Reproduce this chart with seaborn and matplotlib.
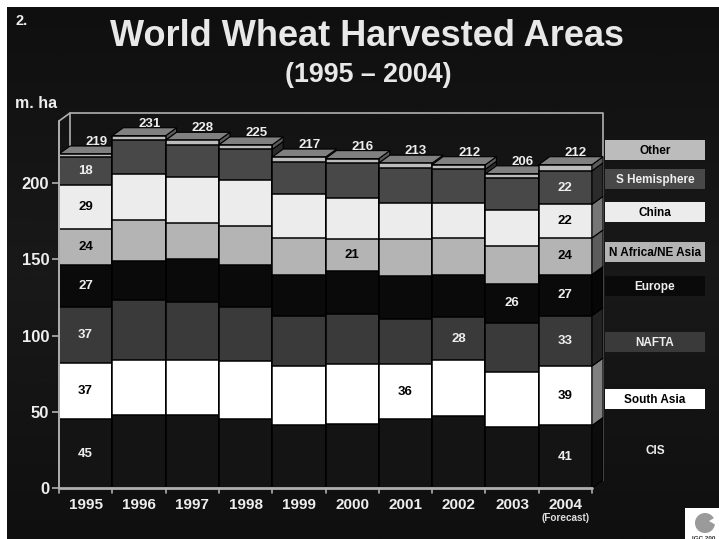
import numpy as np
import pandas as pd
import matplotlib
matplotlib.use("Agg")
import matplotlib.pyplot as plt
from matplotlib.patches import Polygon, Rectangle, Circle, Wedge
import seaborn as sns

# Harvested area by region, million hectares
years = ["1995", "1996", "1997", "1998", "1999", "2000", "2001", "2002", "2003", "2004"]
cis = [45, 48, 48, 45, 41, 42, 45, 47, 40, 41]
south_asia = [37, 36, 36, 38, 39, 39, 36, 37, 36, 39]
nafta = [37, 39, 38, 36, 33, 33, 30, 28, 32, 33]
europe = [27, 26, 28, 27, 27, 28, 28, 28, 26, 27]
nafrica_neasia = [24, 27, 24, 26, 24, 21, 24, 24, 25, 24]
china = [29, 30, 30, 30, 29, 27, 24, 23, 23, 22]
s_hemisphere = [18, 22, 21, 20, 21, 23, 23, 22, 21, 22]
other = [2, 3, 3, 3, 3, 3, 3, 3, 3, 4]
totals = [219, 231, 228, 225, 217, 216, 213, 212, 206, 212]

regions = ["CIS", "South Asia", "NAFTA", "Europe", "N Africa/NE Asia", "China", "S Hemisphere", "Other"]
series = [cis, south_asia, nafta, europe, nafrica_neasia, china, s_hemisphere, other]
front_colors = ["#141414", "#ffffff", "#3a3a3a", "#0a0a0a", "#b4b4b4", "#ececec", "#484848", "#bcbcbc"]
side_colors = ["#0c0c0c", "#808080", "#222222", "#060606", "#5c5c5c", "#767676", "#2b2b2b", "#5a5a5a"]
legend_fill = ["none", "#ffffff", "#3a3a3a", "#0a0a0a", "#b4b4b4", "#ececec", "#484848", "#bcbcbc"]
legend_text = ["#eeeeee", "#000000", "#eeeeee", "#eeeeee", "#000000", "#000000", "#eeeeee", "#000000"]
legend_y = [450, 399, 342, 286, 252, 212, 179, 150]
top_color = "#808080"

# Printed values: (region index, year index)
printed = [(i, 0) for i in range(7)] + [(i, 9) for i in range(7)] + [(4, 5), (1, 6), (2, 7), (3, 8)]

sns.set_theme(style="dark")
plt.rcParams["font.family"] = ["Liberation Sans", "DejaVu Sans"]

W, H = 719, 539
fig = plt.figure(figsize=(W / 100, H / 100), dpi=100, facecolor="white")

# Slide background: faint vertical shading inside a thin white page margin
bg = fig.add_axes([0, 0, 1, 1], zorder=-5)
bg.set_xlim(0, W)
bg.set_ylim(H, 0)
bg.axis("off")
shade = np.interp(np.linspace(0, 1, 200), [0, 0.5, 1], [0.06, 0.098, 0.06]).reshape(-1, 1)
bg.imshow(shade, extent=(7, W, H, 7), cmap="gray", vmin=0, vmax=1, aspect="auto")
bg.set_xlim(0, W)
bg.set_ylim(H, 0)

# Axes span: x 59..592 px, y 0 at 488 px, 1 unit = 1.525 px
left, right, y0, scale = 59, 592, 488, 1.525
ax_top = 100
ax = fig.add_axes([left / W, 1 - y0 / H, (right - left) / W, (y0 - ax_top) / H])
ax.set_facecolor("none")

frame = pd.DataFrame({"year": years})
cum = np.cumsum(np.array(series, dtype=float), axis=0)
# Last segment closes on the stated total
cum[-1] = np.array(totals, dtype=float)

# Stacked fronts: tallest cumulative height first, shorter ones over it
for k in range(len(regions) - 1, -1, -1):
    frame["h"] = cum[k]
    sns.barplot(data=frame, x="year", y="h", color=front_colors[k], saturation=1, width=1.0,
                edgecolor="black", linewidth=1.1, order=years, ax=ax, errorbar=None)

ax.set_xlim(-0.5, 9.5)
ax.set_ylim(0, (y0 - ax_top) / scale)

# Oblique faces and back wall use a fixed pixel depth converted to data units
dx = 11 / ((right - left) / 10)
dy = 8 / scale

# Painter's order: each year's fronts cover the faces of the year on its left
n_reg = len(regions)
for c_idx, cont in enumerate(ax.containers):
    for i, bar in enumerate(cont):
        bar.set_zorder(10 + 3 * i + 1 + c_idx * 0.01)

for i in range(len(years)):
    xr = i + 0.5
    xl = i - 0.5
    z = 10 + 3 * i
    lower = 0.0
    for k in range(n_reg):
        upper = cum[k, i]
        ax.add_patch(Polygon([(xr, lower), (xr + dx, lower + dy), (xr + dx, upper + dy), (xr, upper)],
                             closed=True, facecolor=side_colors[k], edgecolor="black", lw=0.8,
                             zorder=z, clip_on=False))
        lower = upper
    ax.add_patch(Polygon([(xl, lower), (xl + dx, lower + dy), (xr + dx, lower + dy), (xr, lower)],
                         closed=True, facecolor=top_color, edgecolor="black", lw=0.8,
                         zorder=z, clip_on=False))

# Value labels inside the bars
for k, i in printed:
    base = cum[k - 1, i] if k else 0
    mid = (base + cum[k, i]) / 2
    dark = k in (1, 4, 5)
    ax.text(i, mid, str(series[k][i]), ha="center", va="center", fontsize=9.5, fontweight="bold",
            color="black" if dark else "#eeeeee", zorder=60)

# Totals above each bar
for i, t in enumerate(totals):
    ax.text(i + 0.2, t + dy + 2.6, str(t), ha="center", va="center", fontsize=9.5, fontweight="bold",
            color="#eeeeee", zorder=60, clip_on=False)

# Back wall and axis lines
wall = "#b0b0b0"
wall_top = (y0 - 113) / scale
ax.plot([-0.5, -0.5 + dx, -0.5 + dx], [wall_top - dy, wall_top, 219 + dy - 2], color=wall, lw=1.2,
        zorder=1, clip_on=False)
ax.plot([-0.5, -0.5], [0, wall_top - dy], color=wall, lw=1.4, zorder=70, clip_on=False)
ax.plot([-0.5 + dx, 9.5 + dx, 9.5 + dx], [wall_top, wall_top, dy], color=wall, lw=1.2, zorder=1, clip_on=False)
ax.plot([-0.5, 9.5], [0, 0], color=wall, lw=2, zorder=70, clip_on=False)

for s in ax.spines.values():
    s.set_visible(False)
ax.set_xlabel("")
ax.set_ylabel("")
ax.grid(False)
ax.set_yticks([0, 50, 100, 150, 200])
ax.set_yticklabels(["0", "50", "100", "150", "200"], fontsize=12, fontweight="bold", color="#eeeeee")
ax.tick_params(axis="y", length=5, width=1.2, color=wall, pad=2, left=True)
ax.set_xticks(range(10))
ax.set_xticklabels(years, fontsize=11, fontweight="bold", color="#eeeeee")
ax.tick_params(axis="x", length=0, pad=7, bottom=False)
for p in np.arange(-0.5, 10, 1):
    ax.plot([p, p], [0, -3], color=wall, lw=1.2, clip_on=False, zorder=70)

# Page-level annotations in pixel coordinates
px = fig.add_axes([0, 0, 1, 1], zorder=200)
px.set_xlim(0, W)
px.set_ylim(H, 0)
px.axis("off")
px.patch.set_alpha(0)
px.text(15, 21, "2.", fontsize=10.5, fontweight="bold", color="#eeeeee", va="center")
px.text(367, 36, "World Wheat Harvested Areas", fontsize=26, fontweight="bold", color="#e8e8e8",
        ha="center", va="center")
px.text(368, 75, "(1995 – 2004)", fontsize=19.3, fontweight="bold", color="#e8e8e8", ha="center", va="center")
px.text(15, 104, "m. ha", fontsize=11.5, fontweight="bold", color="#eeeeee", va="center")
px.text(565.5, 518, "(Forecast)", fontsize=7.2, fontweight="bold", color="#dddddd", ha="center", va="center")

# Legend boxes placed beside the final bar
for name, fc, tc, yc in zip(regions, legend_fill, legend_text, legend_y):
    px.add_patch(Rectangle((605, yc - 10), 100, 20, facecolor=fc, edgecolor="none"))
    px.text(655, yc + 1, name, fontsize=8.5, fontweight="bold", color=tc, ha="center", va="center")

# Small logo in the lower corner
px.add_patch(Rectangle((685, 508), 34, 31, facecolor="white", edgecolor="none"))
px.add_patch(Circle((705, 523), 10, facecolor="#9a9a9a", edgecolor="none"))
px.add_patch(Wedge((709, 521), 7, 330, 30, facecolor="white", edgecolor="none"))
px.text(704, 538, "IGC 200", fontsize=4.5, fontweight="bold", color="#333333", ha="center", va="center", clip_on=True)

fig.savefig("out.png", dpi=100)
